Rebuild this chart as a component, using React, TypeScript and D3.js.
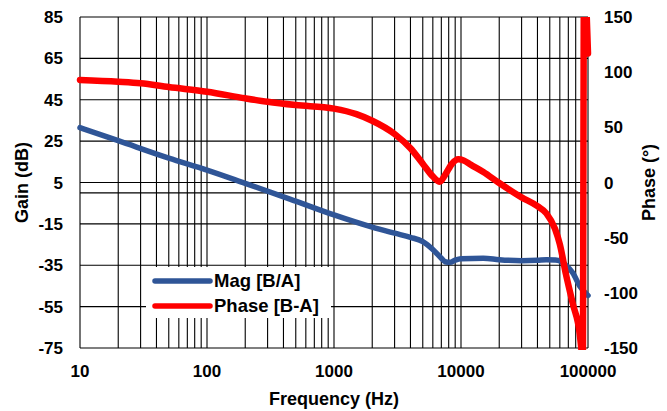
import React from "react";
import * as d3 from "d3";

const magFreq = [10, 20, 50, 100, 200, 450, 1000, 2000, 3000, 4000, 5000, 6000, 7000, 7500, 8200, 9000, 10000, 15000, 20000, 30000, 40000, 47000, 55000, 60000, 67000, 76000, 86500, 100000];
const magGain = [31.5, 25.2, 16.8, 11, 4.6, -3, -10.7, -16.6, -19.5, -21.5, -23.6, -27.4, -31.6, -33.3, -33.6, -32.5, -31.8, -31.6, -32.3, -32.8, -32.6, -32.3, -32.5, -32.9, -35, -38.7, -45.3, -49.6];

const phaseFreq = [10, 20, 30, 50, 100, 200, 300, 500, 1000, 1500, 2000, 3000, 4000, 5000, 6000, 6800, 7500, 8500, 9500, 10500, 12000, 15000, 20000, 30000, 40000, 47000, 55000, 60000, 67000, 76000, 86000, 88500, 91000, 93000, 100000];
const phaseDeg = [93, 91.4, 90, 86.5, 82.3, 76.3, 73.2, 70.2, 67, 62, 56, 44, 31, 17, 5.5, 0.7, 7, 17, 21, 20, 16, 9.5, -0.5, -13.5, -21.5, -28, -42, -56, -83, -110, -137, -150, -165, 190, 117];

const gainTicks = [85, 65, 45, 25, 5, -15, -35, -55, -75];
const phaseTicks = [150, 100, 50, 0, -50, -100, -150];
const freqTicks = [10, 100, 1000, 10000, 100000];

const W = 667, H = 411;
const L = 80, R = 588, T = 17, B = 348;
const FONT = "'Liberation Sans', Arial, sans-serif";

export default function App() {
  const x = d3.scaleLog().domain([10, 100000]).range([L, R]);
  const yG = d3.scaleLinear().domain([-75, 85]).range([B, T]);
  const yP = d3.scaleLinear().domain([-150, 150]).range([B, T]);

  const minor: number[] = [];
  for (let d = 10; d < 100000; d *= 10) {
    for (let k = 1; k <= 9; k++) minor.push(d * k);
  }
  minor.push(100000);

  const magLine = d3
    .line<number>()
    .x((_, i) => x(magFreq[i]))
    .y((v) => yG(v))
    .curve(d3.curveMonotoneX);
  const phLine = d3
    .line<number>()
    .x((_, i) => x(phaseFreq[i]))
    .y((v) => yP(v))
    .curve(d3.curveMonotoneX);

  const blue = "#2F5597";
  const red = "#FF0000";

  return (
    <svg width={W} height={H} style={{ position: "absolute", left: 0, top: 0, background: "#fff" }} fontFamily={FONT} fontWeight="bold">
      <defs>
        <clipPath id="plotclip">
          <rect x={L - 6} y={T} width={R - L + 12} height={B - T + 2} />
        </clipPath>
      </defs>
      <rect x={0} y={0} width={W} height={H} fill="#fff" />
      {minor.map((f, i) => (
        <line key={"v" + i} x1={x(f)} x2={x(f)} y1={T} y2={B} stroke="#000" strokeWidth={1.1} />
      ))}
      {gainTicks.map((g, i) => (
        <line key={"h" + i} x1={L} x2={R} y1={yG(g)} y2={yG(g)} stroke="#000" strokeWidth={1.1} />
      ))}
      <line x1={L} x2={R} y1={yG(0)} y2={yG(0)} stroke="#000" strokeWidth={1.1} />
      <rect x={146} y={267} width={185} height={51} fill="#fff" />
      <g clipPath="url(#plotclip)">
        <path d={magLine(magGain) || ""} fill="none" stroke={blue} strokeWidth={5.5} strokeLinecap="round" strokeLinejoin="round" />
        <path d={phLine(phaseDeg) || ""} fill="none" stroke={red} strokeWidth={6.5} strokeLinecap="round" strokeLinejoin="round" />
      </g>
      <line x1={155} x2={210} y1={281} y2={281} stroke={blue} strokeWidth={5.5} strokeLinecap="round" />
      <text x={214} y={287} fontSize={18.5} fill="#000">Mag [B/A]</text>
      <line x1={155} x2={210} y1={306} y2={306} stroke={red} strokeWidth={5.5} strokeLinecap="round" />
      <text x={214} y={312} fontSize={18.5} fill="#000">Phase [B-A]</text>
      {gainTicks.map((g, i) => (
        <text key={"gl" + i} x={63} y={yG(g)} dy="0.36em" textAnchor="end" fontSize={17} fill="#000">{g}</text>
      ))}
      {phaseTicks.map((p, i) => (
        <text key={"pl" + i} x={604} y={yP(p)} dy="0.36em" textAnchor="start" fontSize={17} fill="#000">{p}</text>
      ))}
      {freqTicks.map((f, i) => (
        <text key={"fl" + i} x={x(f)} y={377} textAnchor="middle" fontSize={17} fill="#000">{f}</text>
      ))}
      <text x={(L + R) / 2} y={405} textAnchor="middle" fontSize={18} fill="#000">Frequency (Hz)</text>
      <text transform={`translate(28,${(T + B) / 2}) rotate(-90)`} textAnchor="middle" fontSize={18} fill="#000">Gain (dB)</text>
      <text transform={`translate(655,${(T + B) / 2}) rotate(-90)`} textAnchor="middle" fontSize={18} fill="#000">Phase (°)</text>
    </svg>
  );
}
